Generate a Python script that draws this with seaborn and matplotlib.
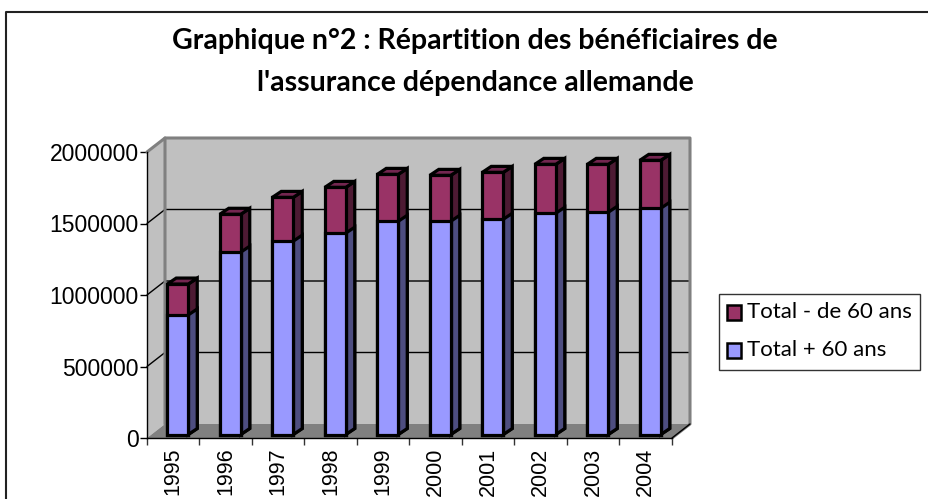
import matplotlib
matplotlib.use("Agg")
from matplotlib import pyplot as plt
from matplotlib.lines import Line2D
from matplotlib.patches import Polygon, Rectangle
from matplotlib.transforms import Affine2D, IdentityTransform
import seaborn as sns

years = ["1995", "1996", "1997", "1998", "1999", "2000", "2001", "2002", "2003", "2004"]
total_plus_60 = [836000, 1275000, 1352000, 1408000, 1491000, 1491000, 1505000, 1547000, 1554000, 1582000]
total_moins_60 = [216000, 265000, 306000, 320000, 328000, 321000, 328000, 342000, 335000, 335000]
totals = [a + b for a, b in zip(total_plus_60, total_moins_60)]
y_ticks = [0, 500000, 1000000, 1500000, 2000000]

W, H = 929, 499
PURPLE, PURPLE_SIDE, PURPLE_TOP = "#993366", "#4d1a33", "#732650"
BLUE, BLUE_SIDE = "#9999ff", "#4d4d80"

sns.set_theme(style="white")
plt.rcParams["font.family"] = ["Liberation Sans", "DejaVu Sans"]

fig = plt.figure(figsize=(W / 100, H / 100), dpi=100, facecolor="white")
# frame of the page: open at the right and at the bottom
fig.add_artist(Line2D([6.5 / W, 6.5 / W, 1], [0, 1 - 11.5 / H, 1 - 11.5 / H], transform=fig.transFigure,
                      color="#222222", lw=1.5))

# axes = front plane of the 3d box
left, right, top, bottom = 147, 672, 152, 438
ax = fig.add_axes([left / W, 1 - bottom / H, (right - left) / W, (bottom - top) / H])
ax.patch.set_visible(False)

sns.barplot(x=years, y=totals, color=PURPLE, width=0.4, saturation=1, ax=ax, zorder=5)
sns.barplot(x=years, y=total_plus_60, color=BLUE, width=0.4, saturation=1, ax=ax, zorder=6)
ax.set_xlim(-0.5, 9.5)
ax.set_ylim(0, 2000000)
fig.canvas.draw()

px = IdentityTransform()
DX, DY = 18, 14         # depth of the box
BX, BY = 4.5, 3.5       # bars sit inside the box
SX, SY = 9, 6           # depth of a bar


def pts(x, y):
    return ax.transData.transform((x, y))


def poly(corners, fc, ec="none", lw=0, z=1):
    ax.add_patch(Polygon(corners, closed=True, fc=fc, ec=ec, lw=lw, transform=px, zorder=z,
                         clip_on=False, joinstyle="miter"))


x0, y0 = pts(-0.5, 0)
x1, y1 = pts(9.5, 2000000)
poly([(x0 + DX, y0 + DY), (x1 + DX, y0 + DY), (x1 + DX, y1 + DY), (x0 + DX, y1 + DY)], "#c0c0c0")
poly([(x0, y0), (x0 + DX, y0 + DY), (x0 + DX, y1 + DY), (x0, y1)], "#c0c0c0")
poly([(x0, y0), (x1, y0), (x1 + DX, y0 + DY), (x0 + DX, y0 + DY)], "#808080", z=2)

for v in y_ticks[1:-1]:
    _, yv = pts(0, v)
    ax.plot([x0, x0 + DX, x1 + DX], [yv, yv + DY, yv + DY], color="black", lw=1, transform=px,
            zorder=3, clip_on=False)

# grey rims of the walls
ax.plot([x0, x0 + DX, x0 + DX], [y1, y1 + DY, y0 + DY], color="#808080", lw=2.2, transform=px,
        zorder=3, clip_on=False)
ax.plot([x0 + DX, x1 + DX, x1 + DX, x1], [y1 + DY, y1 + DY, y0 + DY, y0], color="#808080", lw=2.2,
        transform=px, zorder=3, clip_on=False)
ax.plot([x1, x1 + DX], [y0, y0 + DY], color="black", lw=1, transform=px, zorder=3, clip_on=False)

# front faces come from seaborn, depth faces are built on them
n = len(years)
for i, bar in enumerate(ax.patches[:2 * n]):
    bar.set_transform(ax.transData + Affine2D().translate(BX, BY))
    bar.set_edgecolor("black")
    bar.set_linewidth(2.3)
    bar.set_zorder(6)
    lx, ly = pts(bar.get_x(), 0)
    rx, ty = pts(bar.get_x() + bar.get_width(), bar.get_height())
    lx, rx, ly, ty = lx + BX, rx + BX, ly + BY, ty + BY
    side = PURPLE_SIDE if i < n else BLUE_SIDE
    poly([(rx, ly), (rx + SX, ly + SY), (rx + SX, ty + SY), (rx, ty)], side, "black", 2.3, 4 if i < n else 4.5)
    if i < n:
        poly([(lx, ty), (lx + SX, ty + SY), (rx + SX, ty + SY), (rx, ty)], PURPLE_TOP, "black", 2.3, 4)

for s in ["top", "right"]:
    ax.spines[s].set_visible(False)
for s in ["left", "bottom"]:
    ax.spines[s].set_color("black")
    ax.spines[s].set_linewidth(1)
    ax.spines[s].set_zorder(8)

ax.set_yticks(y_ticks)
ax.set_yticklabels([str(v) for v in y_ticks], fontsize=16.5, color="black")
ax.set_xticks([i + 0.5 for i in range(-1, n)], minor=True)
ax.tick_params(axis="x", which="minor", bottom=True, length=5, width=1, color="#333333")
ax.set_xticks(range(n))
ax.set_xticklabels(years, rotation=90, fontsize=15.5, color="black")
ax.tick_params(axis="x", which="major", bottom=False, length=0, pad=7)
ax.tick_params(axis="y", left=True, length=5, width=1, color="black", pad=1)
ax.set_xlabel("")
ax.set_ylabel("")

fig.text(475 / W, 1 - 41 / H, "Graphique n°2 : Répartition des bénéficiaires de", ha="center", va="center",
         fontsize=20.5, fontweight="bold", family="Lato", color="black")
fig.text(475.5 / W, 1 - 83 / H, "l'assurance dépendance allemande", ha="center", va="center",
         fontsize=20.5, fontweight="bold", family="Lato", color="black")

# legend box
fig.add_artist(Rectangle((719.5 / W, 1 - 369.5 / H), 201 / W, 76 / H, transform=fig.transFigure,
                         fc="white", ec="#333333", lw=1))
for yp, col, name in [(312.5, PURPLE, "Total - de 60 ans"), (350, BLUE, "Total + 60 ans")]:
    fig.add_artist(Rectangle((727 / W, 1 - (yp + 7.5) / H), 14.5 / W, 15 / H, transform=fig.transFigure,
                             fc=col, ec="black", lw=1.8))
    fig.text(747 / W, 1 - yp / H, name, ha="left", va="center", fontsize=16, family="Lato", color="black")

fig.savefig("out.png", dpi=100)
